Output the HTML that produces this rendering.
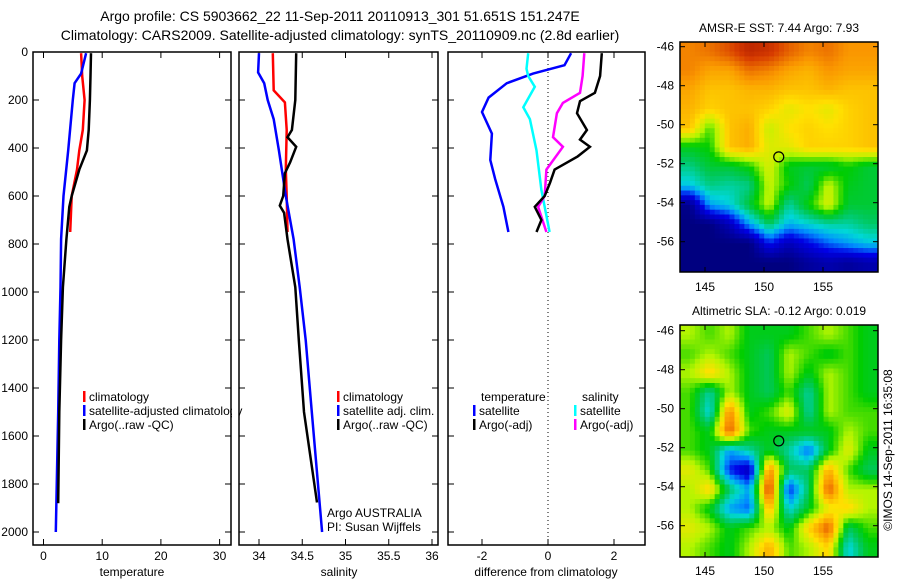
<!DOCTYPE html>
<html><head><meta charset="utf-8"><style>
body{margin:0;background:#fff;}
svg text{font-family:"Liberation Sans",sans-serif;fill:#000;}
</style></head><body>
<svg id="c" width="900" height="580" xmlns="http://www.w3.org/2000/svg">
<defs>
<clipPath id="cm1"><rect x="680" y="42" width="198" height="230"/></clipPath>
<clipPath id="cm2"><rect x="680" y="325" width="198" height="232"/></clipPath>
</defs>
<text x="340" y="21" font-size="14" text-anchor="middle">Argo profile: CS 5903662_22 11-Sep-2011 20110913_301 51.651S 151.247E</text>
<text x="340" y="40" font-size="14" text-anchor="middle">Climatology: CARS2009. Satellite-adjusted climatology: synTS_20110909.nc (2.8d earlier)</text>
<g id="g"></g>
</svg>
<script>
// depth levels (m)
const depthT = [5,100,200,325,410,490,600,645,780,980,1200,1500,1880];
const argoTemp = [8.1,8.0,7.9,7.7,7.4,6.1,4.8,4.4,3.9,3.3,3.0,2.7,2.5];
const climDepth = [5,100,200,325,410,490,600,750];
const climTemp = [6.4,6.6,7.0,6.7,6.1,5.7,4.8,4.55];
const satDepth = [5,90,130,200,410,600,780,980,1200,1500,2000];
const satTemp = [7.25,6.4,5.3,5.0,4.2,3.4,3.0,2.9,2.7,2.5,2.1];

const argoSalDepth = [5,200,325,355,395,460,505,600,640,670,780,980,1200,1500,1877];
const argoSal = [34.43,34.42,34.38,34.33,34.43,34.36,34.30,34.28,34.24,34.29,34.33,34.42,34.46,34.52,34.67];
const climSalDepth = [5,160,210,325,490,600,750];
const climSal = [34.16,34.17,34.30,34.32,34.31,34.32,34.33];
const satSalDepth = [5,85,130,200,280,410,600,780,980,1200,1500,2000];
const satSal = [34.0,33.99,34.06,34.10,34.17,34.23,34.31,34.40,34.47,34.54,34.61,34.73];

const dTempSatDepth = [5,55,90,130,190,250,340,450,530,645,750];
const dTempSat = [0.7,0.5,-0.45,-1.25,-1.8,-2.0,-1.7,-1.75,-1.6,-1.35,-1.2];
const dSalSatDepth = [5,70,100,145,230,280,410,575,750];
const dSalSat = [-0.6,-0.65,-0.6,-0.4,-0.75,-0.55,-0.35,-0.2,0.05];
const dSalArgoDepth = [5,100,170,212,255,355,395,490,600,645,750];
const dSalArgo = [1.1,1.05,0.97,0.45,0.27,0.15,0.45,-0.05,-0.1,-0.3,-0.05];
const dTempArgoDepth = [5,100,170,205,255,325,365,395,435,490,545,600,645,700,750];
const dTempArgo = [1.63,1.58,1.42,0.97,0.88,1.18,0.97,1.27,0.9,0.2,0.06,-0.1,-0.4,-0.2,-0.35];

const depthTicks = [0,200,400,600,800,1000,1200,1400,1600,1800,2000];
const tempTicks = [0,10,20,30];
const salTicks = [34,34.5,35,35.5,36];
const diffTicks = [-2,0,2];
const latTicks = [-46,-48,-50,-52,-54,-56];
const lonTicks = [145,150,155];

const sstGrid = [
[.8,.82,.86,.92,.9,.84,.8,.82,.78,.78],
[.8,.76,.76,.82,.8,.76,.74,.78,.76,.76],
[.76,.72,.72,.74,.74,.72,.72,.74,.72,.72],
[.74,.7,.72,.72,.7,.65,.68,.65,.7,.72],
[.72,.55,.72,.75,.62,.68,.7,.68,.7,.72],
[.5,.52,.72,.75,.64,.65,.7,.7,.7,.72],
[.42,.48,.48,.52,.64,.5,.48,.48,.52,.48],
[.34,.42,.4,.42,.62,.52,.45,.62,.5,.48],
[.02,.3,.35,.48,.62,.4,.52,.64,.48,.48],
[0,0,.1,.3,.45,.32,.36,.4,.4,.44],
[0,0,0,0,.2,.1,.18,.25,.3,.34],
[0,0,0,0,0,0,.05,.08,.05,.08]];
const slaGrid = [
[.6,.55,.6,.5,.5,.5,.55,.6,.55,.5],
[.55,.6,.55,.5,.45,.6,.55,.5,.55,.5],
[.6,.7,.6,.5,.45,.6,.5,.6,.55,.5],
[.55,.4,.6,.5,.45,.55,.4,.6,.55,.5],
[.55,.35,.8,.5,.55,.65,.4,.6,.55,.55],
[.55,.5,.85,.55,.5,.5,.5,.5,.6,.55],
[.55,.5,.3,.4,.5,.4,.25,.5,.65,.5],
[.65,.55,.2,.1,.8,.45,.45,.75,.55,.45],
[.6,.7,.45,.3,.9,.2,.45,.85,.6,.6],
[.6,.5,.3,.25,.75,.35,.5,.65,.7,.6],
[.65,.6,.5,.55,.6,.5,.7,.85,.45,.55],
[.6,.55,.5,.6,.75,.55,.6,.7,.35,.5]];
const argoLon = 151.25, argoLat = -51.65;

const NS="http://www.w3.org/2000/svg";
const G=document.getElementById('g');
function el(t,a,p){const e=document.createElementNS(NS,t);for(const k in a)e.setAttribute(k,a[k]);(p||G).appendChild(e);return e;}
function txt(x,y,s,a,p){const e=el('text',Object.assign({x:x,y:y,'font-size':12},a||{}),p);e.textContent=s;return e;}
const yD=d=>52+d*0.24;
const xT=v=>43.5+v*5.87;
const xS=v=>259+(v-34)*86.5;
const xDf=v=>548+v*33;
const mx=l=>705+(l-145)*11.8;
const my1=l=>46.7-(l+46)*19.5;
const my2=l=>330.7-(l+46)*19.5;

function frame(x0,x1,name){
  const r=el('rect',{x:x0,y:52,width:x1-x0,height:493,fill:'none',stroke:'#000','stroke-width':1.5});
  
  depthTicks.forEach(d=>{el('line',{x1:x0,x2:x0+6,y1:yD(d),y2:yD(d),stroke:'#000'});el('line',{x1:x1-6,x2:x1,y1:yD(d),y2:yD(d),stroke:'#000'});});
}
function xticks(ticks,f,label,name){
  ticks.forEach(t=>{const x=f(t);el('line',{x1:x,x2:x,y1:52,y2:58,stroke:'#000'});el('line',{x1:x,x2:x,y1:539,y2:545,stroke:'#000'});
    const e=txt(x,560,String(t),{'text-anchor':'middle'});});
}
function line(ds,vs,f,col,name){
  const pts=ds.map((d,i)=>f(vs[i]).toFixed(1)+','+yD(d).toFixed(1)).join(' ');
  const e=el('polyline',{points:pts,fill:'none',stroke:col,'stroke-width':2.5});
  
}
function legend(x,y,col,s,name){
  el('rect',{x:x,y:y-10,width:2.5,height:11,fill:col});
  const t=txt(x+6,y,s);
}
// panel 1
frame(33,231,'temperature-panel');
depthTicks.forEach(d=>{const e=txt(28,yD(d)+4,String(d),{'text-anchor':'end'});});
xticks(tempTicks,xT,'temperature','temperature');
line(climDepth,climTemp,xT,'#f00','climatology-temp-line');
line(satDepth,satTemp,xT,'#00f','satellite-temp-line');
line(depthT,argoTemp,xT,'#000','argo-temp-line');
legend(83,401,'#f00','climatology','legend-climatology');
legend(83,415,'#00f','satellite-adjusted climatology','legend-satellite');
legend(83,429,'#000','Argo(..raw -QC)','legend-argo');
let t=txt(132,576,'temperature',{'text-anchor':'middle'});
el('rect',{x:232,y:380,width:7,height:60,fill:'#fff'});
// panel 2
frame(239,438,'salinity-panel');
xticks(salTicks,xS,'salinity','salinity');
line(climSalDepth,climSal,xS,'#f00','climatology-sal-line');
line(satSalDepth,satSal,xS,'#00f','satellite-sal-line');
line(argoSalDepth,argoSal,xS,'#000','argo-sal-line');
legend(337,401,'#f00','climatology','legend-sal-climatology');
legend(337,415,'#00f','satellite adj. clim.','legend-sal-satellite');
legend(337,429,'#000','Argo(..raw -QC)','legend-sal-argo');
t=txt(327,517,'Argo AUSTRALIA');
t=txt(327,531,'PI: Susan Wijffels');
t=txt(339,576,'salinity',{'text-anchor':'middle'});
// panel 3
frame(448,645,'difference-panel');
xticks(diffTicks,xDf,'difference','difference');
el('line',{x1:xDf(0),x2:xDf(0),y1:52,y2:545,stroke:'#000','stroke-dasharray':'1,3'});
line(dTempSatDepth,dTempSat,xDf,'#00f','diff-temp-satellite-line');
line(dSalSatDepth,dSalSat,xDf,'#0ff','diff-sal-satellite-line');
line(dSalArgoDepth,dSalArgo,xDf,'#f0f','diff-sal-argo-line');
line(dTempArgoDepth,dTempArgo,xDf,'#000','diff-temp-argo-line');
t=txt(481,401,'temperature');
t=txt(582,401,'salinity');
legend(473,415,'#00f','satellite','legend-diff-temp-sat');
legend(473,429,'#000','Argo(-adj)','legend-diff-temp-argo');
legend(574,415,'#0ff','satellite','legend-diff-sal-sat');
legend(574,429,'#f0f','Argo(-adj)','legend-diff-sal-argo');
t=txt(546,576,'difference from climatology',{'text-anchor':'middle'});

// maps
const stops=[[0,[0,0,128]],[0.18,[0,0,230]],[0.28,[0,140,255]],[0.36,[0,215,215]],[0.45,[0,200,90]],[0.52,[0,205,0]],[0.6,[180,245,0]],[0.68,[255,225,0]],[0.78,[250,150,0]],[0.88,[215,60,0]],[1,[140,0,0]]];
function cmap(v){v=Math.max(0,Math.min(1,v));for(let i=1;i<stops.length;i++){if(v<=stops[i][0]){const a=stops[i-1],b=stops[i],f=(v-a[0])/(b[0]-a[0]);return 'rgb('+a[1].map((c,k)=>Math.round(c+(b[1][k]-c)*f)).join(',')+')';}}return 'rgb(140,0,0)';}
function sample(grid,fy,fx){const R=grid.length,C=grid[0].length;
  let y=Math.max(0,Math.min(R-1,fy)),x=Math.max(0,Math.min(C-1,fx));
  const y0=Math.floor(y),x0=Math.floor(x),y1=Math.min(R-1,y0+1),x1=Math.min(C-1,x0+1),dy=y-y0,dx=x-x0;
  return grid[y0][x0]*(1-dy)*(1-dx)+grid[y0][x1]*(1-dy)*dx+grid[y1][x0]*dy*(1-dx)+grid[y1][x1]*dy*dx;}
function map(grid,y0,y1,my,clip,name,title,titleName,labY){
  const g=el('g',{'clip-path':'url(#'+clip+')'});
  
  const rows=grid.length,cols=grid[0].length,S=4,cw=198/(cols*S),rh=(y1-y0)/(rows*S);
  for(let i=0;i<rows*S;i++)for(let j=0;j<cols*S;j++){
    const v=sample(grid,(i+0.5)/S-0.5,(j+0.5)/S-0.5);
    el('rect',{x:(680+j*cw).toFixed(2),y:(y0+i*rh).toFixed(2),width:(cw+0.6).toFixed(2),height:(rh+0.6).toFixed(2),fill:cmap(v)},g);
  }
  const f=el('rect',{x:680,y:y0,width:198,height:y1-y0,fill:'none',stroke:'#000','stroke-width':1.5});
  
  latTicks.forEach(l=>{const y=my(l);el('line',{x1:680,x2:685,y1:y,y2:y,stroke:'#000'});el('line',{x1:873,x2:878,y1:y,y2:y,stroke:'#000'});
    const e=txt(674,y+4,String(l),{'text-anchor':'end'});});
  lonTicks.forEach(l=>{const x=mx(l);el('line',{x1:x,x2:x,y1:y0,y2:y0+5,stroke:'#000'});el('line',{x1:x,x2:x,y1:y1-5,y2:y1,stroke:'#000'});
    const e=txt(x,labY,String(l),{'text-anchor':'middle'});});
  const c=el('circle',{cx:mx(argoLon),cy:my(argoLat),r:5,fill:'none',stroke:'#000','stroke-width':1.2});
  
  const tt=txt(779,y0-10,title,{'text-anchor':'middle'});
}
map(sstGrid,42,272,my1,'cm1','sst-map','AMSR-E SST: 7.44 Argo: 7.93','sst-map-title',291);
map(slaGrid,325,557,my2,'cm2','sla-map','Altimetric SLA: -0.12 Argo: 0.019','sla-map-title',575);
t=txt(0,0,'©IMOS 14-Sep-2011 16:35:08',{'text-anchor':'middle',transform:'translate(892,450) rotate(-90)'});

</script>
</body></html>
